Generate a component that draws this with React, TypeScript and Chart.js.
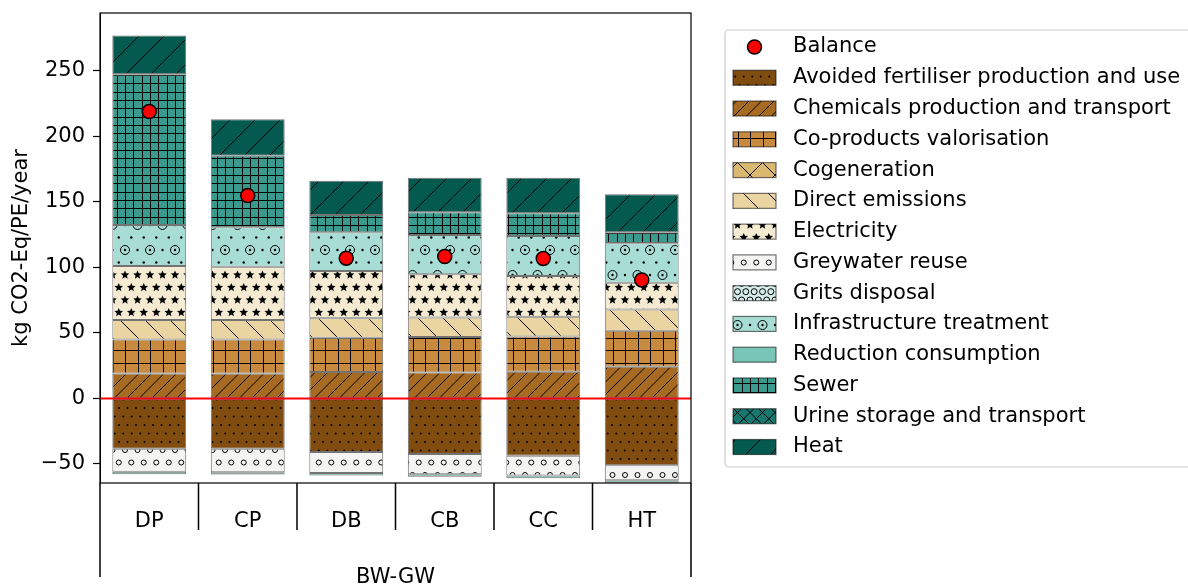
import React, { useEffect, useRef } from 'react';
import { Chart, registerables } from 'chart.js';

Chart.register(...registerables);

// ---------------- DATA ----------------
const categories = ['DP', 'CP', 'DB', 'CB', 'CC', 'HT'];
const groupLabel = 'BW-GW';
const yTitle = 'kg CO2-Eq/PE/year';
const yTicks = [-50, 0, 50, 100, 150, 200, 250];

const balance = [218.8, 154.7, 107.0, 108.3, 106.7, 90.4];
const avoidedFertiliser = [-38.4, -38.4, -40.8, -42.3, -43.8, -50.9];
const chemicals = [19.1, 19.1, 20.1, 19.8, 20.3, 24.1];
const coProducts = [25.9, 25.9, 26.2, 27.0, 27.0, 27.5];
const cogeneration = [0, 0, 0, 0, 0, 0];
const directEmissions = [14.8, 14.8, 14.8, 15.0, 15.0, 16.3];
const electricity = [41.2, 40.7, 36.1, 32.9, 31.1, 20.3];
const greywaterReuse = [-17.6, -17.9, -16.0, -15.5, -15.0, -11.5];
const gritsDisposal = [0, 0, 0, 0, 0, 0];
const infrastructure = [31.3, 30.0, 29.5, 30.0, 30.5, 30.1];
const reductionConsumption = [-1.8, -1.7, -2.0, -2.0, -2.0, -2.0];
const sewer = [115.0, 54.7, 13.2, 17.3, 17.3, 8.4];
const urineStorage = [0, 0, 0, 0, 0, 0];
const heat = [29.5, 27.8, 26.2, 26.4, 27.2, 29.0];

const series = [
  { label: 'Avoided fertiliser production and use', data: avoidedFertiliser, key: 'avoided' },
  { label: 'Chemicals production and transport', data: chemicals, key: 'chemicals' },
  { label: 'Co-products valorisation', data: coProducts, key: 'coproducts' },
  { label: 'Cogeneration', data: cogeneration, key: 'cogeneration' },
  { label: 'Direct emissions', data: directEmissions, key: 'direct' },
  { label: 'Electricity', data: electricity, key: 'electricity' },
  { label: 'Greywater reuse', data: greywaterReuse, key: 'greywater' },
  { label: 'Grits disposal', data: gritsDisposal, key: 'grits' },
  { label: 'Infrastructure treatment', data: infrastructure, key: 'infra' },
  { label: 'Reduction consumption', data: reductionConsumption, key: 'reduction' },
  { label: 'Sewer', data: sewer, key: 'sewer' },
  { label: 'Urine storage and transport', data: urineStorage, key: 'urine' },
  { label: 'Heat', data: heat, key: 'heat' },
];

// ---------------- STYLES ----------------
const FONT = '"DejaVu Sans", "Liberation Sans", sans-serif';
const FSIZE = 21;
const HATCH = '#000000';
const EDGE = 'rgba(0,0,0,0.55)';

type G = CanvasRenderingContext2D;
type Hatch = (g: G, T: number) => void;

const diag = (n: number, dir: 1 | -1): Hatch => (g, T) => {
  const d = T / n;
  g.beginPath();
  for (let k = -n; k <= 2 * n; k++) {
    const x0 = k * d;
    if (dir === 1) { g.moveTo(x0, T); g.lineTo(x0 + T, 0); }
    else { g.moveTo(x0, 0); g.lineTo(x0 + T, T); }
  }
  g.stroke();
};
const grid = (n: number): Hatch => (g, T) => {
  const d = T / n;
  g.beginPath();
  for (let k = 0; k < n; k++) {
    const p = Math.round(k * d) + 0.5;
    g.moveTo(p, 0); g.lineTo(p, T);
    g.moveTo(0, p); g.lineTo(T, p);
  }
  g.stroke();
};
const shapes = (offset: number, one: (g: G, x: number, y: number) => void): Hatch => (g, T) => {
  const n = Math.round(T / offset);
  for (let r = -1; r <= n + 1; r++) {
    const shift = Math.abs(r) % 2 === 1 ? offset / 2 : 0;
    for (let c = -1; c <= n + 1; c++) one(g, c * offset + shift, r * offset);
  }
};
const dot = (rad: number) => (g: G, x: number, y: number) => {
  g.beginPath(); g.arc(x, y, rad, 0, Math.PI * 2); g.fill();
};
const ring = (rad: number) => (g: G, x: number, y: number) => {
  g.beginPath(); g.arc(x, y, rad, 0, Math.PI * 2); g.stroke();
};
const star = (R: number) => (g: G, x: number, y: number) => {
  g.beginPath();
  for (let i = 0; i < 10; i++) {
    const rr = i % 2 === 0 ? R : R * 0.45;
    const a = -Math.PI / 2 + (i * Math.PI) / 5;
    const px = x + rr * Math.cos(a), py = y + rr * Math.sin(a);
    if (i === 0) g.moveTo(px, py); else g.lineTo(px, py);
  }
  g.closePath(); g.fill();
};
const both = (...hs: Hatch[]): Hatch => (g, T) => hs.forEach((h) => h(g, T));

const styles: Record<string, { color: string; T: number; hatch?: Hatch }> = {
  avoided: { color: '#804c10', T: 17, hatch: shapes(8.5, dot(1.0)) },
  chemicals: { color: '#a66a22', T: 25, hatch: diag(2, 1) },
  coproducts: { color: '#c78a3e', T: 25, hatch: grid(2) },
  cogeneration: { color: '#dbb870', T: 25, hatch: both(diag(1, 1), diag(1, -1)) },
  direct: { color: '#ead5a2', T: 25, hatch: diag(1, -1) },
  electricity: { color: '#f5ebd2', T: 25, hatch: shapes(12.5, star(4.5)) },
  greywater: { color: '#f4f5f3', T: 25, hatch: shapes(12.5, ring(2.5)) },
  grits: { color: '#d5ede9', T: 50, hatch: shapes(50 / 6, ring(3)) },
  infra: { color: '#a7ddd5', T: 50, hatch: both(shapes(25, ring(4.5)), shapes(12.5, dot(1.2))) },
  reduction: { color: '#79c5b8', T: 25 },
  sewer: { color: '#3b9a8e', T: 25, hatch: grid(3) },
  urine: { color: '#18776e', T: 25, hatch: both(diag(2, 1), diag(2, -1)) },
  heat: { color: '#045a4f', T: 25, hatch: diag(1, 1) },
};

function makePattern(ctx: G, key: string): CanvasPattern | string {
  const s = styles[key];
  if (!s.hatch) return s.color;
  const c = document.createElement('canvas');
  c.width = s.T; c.height = s.T;
  const g = c.getContext('2d')!;
  g.fillStyle = s.color; g.fillRect(0, 0, s.T, s.T);
  g.strokeStyle = HATCH; g.fillStyle = HATCH; g.lineWidth = 1;
  s.hatch(g, s.T);
  return ctx.createPattern(c, 'repeat')!;
}

const fmtTick = (v: number) => (v < 0 ? '\u2212' + Math.abs(v) : String(v));

export default function App() {
  const ref = useRef<HTMLCanvasElement>(null);
  useEffect(() => {
    const canvas = ref.current!;
    const ctx = canvas.getContext('2d')!;
    const fills = series.map((s) => makePattern(ctx, s.key));

    const decor = {
      id: 'decor',
      afterDatasetsDraw(chart: any) {
        const { ctx: c, chartArea: a, scales } = chart;
        const y0 = scales.y.getPixelForValue(0);
        c.save();
        c.strokeStyle = '#ff0000'; c.lineWidth = 2;
        c.beginPath(); c.moveTo(a.left, y0); c.lineTo(a.right, y0); c.stroke();
        c.restore();
      },
      afterDraw(chart: any) {
        const { ctx: c, chartArea: a, scales } = chart;
        const x = scales.x;
        c.save();
        // frame
        c.strokeStyle = '#000'; c.lineWidth = 1.2;
        c.strokeRect(a.left, a.top, a.right - a.left, a.bottom - a.top);
        // multi-level x axis
        const n = categories.length;
        const half = (x.getPixelForValue(1) - x.getPixelForValue(0)) / 2;
        c.lineWidth = 1.5;
        c.beginPath();
        for (let i = 0; i <= n; i++) {
          const bx = i === n ? x.getPixelForValue(n - 1) + half : x.getPixelForValue(i) - half;
          const len = i === 0 || i === n ? 94 : 47;
          c.moveTo(bx, a.bottom); c.lineTo(bx, a.bottom + len);
        }
        c.stroke();
        c.fillStyle = '#000';
        c.font = `${FSIZE}px ${FONT}`;
        c.textAlign = 'center'; c.textBaseline = 'middle';
        categories.forEach((lab, i) => c.fillText(lab, x.getPixelForValue(i), a.bottom + 39));
        c.fillText(groupLabel, (a.left + a.right) / 2, a.bottom + 95);

        // legend
        const lx = a.right + 34, ly = 30, lw = 480, lh = 437;
        c.fillStyle = 'rgba(255,255,255,0.9)';
        c.strokeStyle = '#cccccc'; c.lineWidth = 1.2;
        c.beginPath();
        (c as any).roundRect(lx, ly, lw, lh, 4);
        c.fill(); c.stroke();
        const rowH = 30.77;
        const r0 = ly + 17;
        const px = lx + 8, pw = 43, ph = 15;
        // Balance
        c.fillStyle = '#ff0000'; c.strokeStyle = '#000'; c.lineWidth = 1.5;
        c.beginPath(); c.arc(px + pw / 2, r0, 7, 0, Math.PI * 2); c.fill(); c.stroke();
        c.textAlign = 'left';
        c.fillStyle = '#000';
        c.fillText('Balance', lx + 68, r0);
        series.forEach((s, i) => {
          const cy = r0 + (i + 1) * rowH;
          c.fillStyle = fills[i] as any;
          c.fillRect(px, cy - ph / 2, pw, ph);
          c.strokeStyle = EDGE; c.lineWidth = 1.2;
          c.strokeRect(px, cy - ph / 2, pw, ph);
          c.fillStyle = '#000';
          c.fillText(s.label, lx + 68, cy);
        });
        c.restore();
      },
    };

    const datasets: any[] = [
      {
        type: 'line',
        label: 'Balance',
        data: balance,
        showLine: false,
        stack: 'balance',
        order: 0,
        pointRadius: 7,
        pointHoverRadius: 7,
        pointBackgroundColor: '#ff0000',
        pointBorderColor: '#000000',
        pointBorderWidth: 1.5,
      },
      ...series.map((s, i) => ({
        type: 'bar',
        label: s.label,
        data: s.data,
        backgroundColor: fills[i],
        borderColor: EDGE,
        borderWidth: 1,
        borderSkipped: false,
        stack: 'bars',
        order: 1,
      })),
    ];

    const chart = new Chart(ctx, {
      type: 'bar',
      data: { labels: categories, datasets },
      options: {
        animation: false,
        responsive: false,
        devicePixelRatio: 1,
        layout: { padding: { left: 0, top: 13, right: 497, bottom: 104 } },
        datasets: { bar: { barPercentage: 0.75, categoryPercentage: 1 } },
        plugins: { legend: { display: false }, tooltip: { enabled: false } },
        scales: {
          x: { display: false, stacked: true, offset: true },
          y: {
            stacked: true,
            min: -64.5,
            max: 294,
            afterFit: (s: any) => { s.width = 100; s.paddingTop = 0; s.paddingBottom = 0; },
            afterBuildTicks: (s: any) => { s.ticks = yTicks.map((v) => ({ value: v })); },
            ticks: { color: '#000', font: { family: FONT, size: FSIZE }, padding: 8, callback: (v: any) => fmtTick(Number(v)) },
            grid: { drawOnChartArea: false, drawTicks: true, tickLength: 7, color: '#000', tickColor: '#000', tickWidth: 1.2 },
            border: { display: true, color: '#000' },
            title: { display: true, text: yTitle, color: '#000', font: { family: FONT, size: FSIZE }, padding: { top: 9, bottom: 0 } },
          },
        },
      } as any,
      plugins: [decor],
    });
    return () => chart.destroy();
  }, []);

  return (
    <div style={{ position: 'absolute', left: 0, top: 0, width: 1188, height: 587, background: '#fff' }}>
      <canvas ref={ref} width={1188} height={587} style={{ display: 'block', width: 1188, height: 587 }} />
    </div>
  );
}
